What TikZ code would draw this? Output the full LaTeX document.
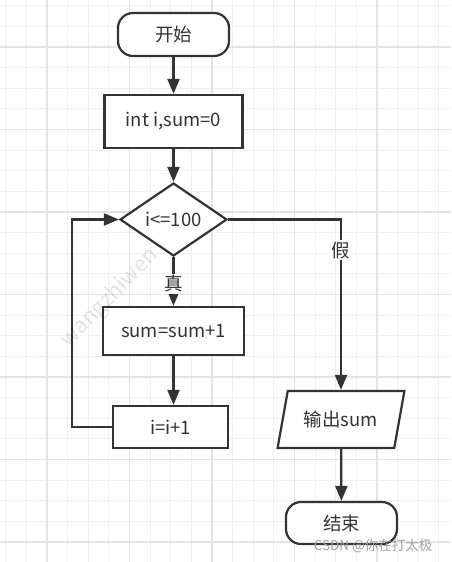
\documentclass[tikz,border=0pt]{standalone}
\usepackage{fontspec}
\setmainfont{Noto Sans CJK SC}
\usetikzlibrary{arrows.meta, shapes.geometric}
\definecolor{FInk}{HTML}{333333}
\definecolor{FGridMinor}{HTML}{F0F0F0}
\definecolor{FGridMajor}{HTML}{E3E3E3}
\definecolor{FMark}{HTML}{A0A0A0}

\begin{document}
\begin{tikzpicture}[
  x=1pt, y=-1pt,
  font=\fontsize{18.5}{22}\selectfont,
  box/.style={rectangle, draw=FInk, line width=2.2pt, fill=white,
              text=FInk, inner sep=2pt},
  term/.style={box, rounded corners=15pt, minimum width=111pt,
               minimum height=43pt},
  cond/.style={diamond, draw=FInk, line width=2.2pt, fill=white,
               text=FInk, inner sep=0pt, minimum width=107pt,
               minimum height=73pt},
  io/.style={trapezium, trapezium left angle=72, trapezium right angle=108,
             trapezium stretches=true, draw=FInk, line width=2.2pt,
             fill=white, text=FInk, minimum width=127pt, minimum height=57pt},
  flow/.style={-{Triangle[length=15pt,width=12pt]}, draw=FInk,
               line width=2.2pt},
  lbl/.style={fill=white, text=FInk, inner sep=1.5pt},
  gridminor/.style={draw=FGridMinor, line width=1pt},
  gridmajor/.style={draw=FGridMajor, line width=1.2pt},
]
\useasboundingbox (0,0) rectangle (451,562);
\fill[white] (0,0) rectangle (451,562);

% ── background grid ──────────────────────────────────────────────────────
\foreach \k in {-2,...,19}
  \draw[gridminor] ({47+20.625*\k},0) -- ++(0,562);
\foreach \k in {-2,...,24}
  \draw[gridminor] (0,{47+20.625*\k}) -- ++(451,0);
\foreach \k in {0,...,4}
  \draw[gridmajor] ({47+82.5*\k},0) -- ++(0,562);
\foreach \k in {0,...,6}
  \draw[gridmajor] (0,{47+82.5*\k}) -- ++(451,0);

% ── main column ──────────────────────────────────────────────────────────
\node[term] (start) at (173.5,34.5) {开始};
\node[box, minimum width=138pt, minimum height=53pt]
  (init) at (173.5,121.5) {int i,sum=0};
\node[cond] (test) at (173.5,219.5) {i<=100};
\node[box, minimum width=141pt, minimum height=48pt]
  (sum) at (173.5,331) {sum=sum+1};
\node[box, minimum width=115pt, minimum height=42pt]
  (inc) at (170.5,427) {i=i+1};

\draw[flow] (start) -- (init);
\draw[flow] (init) -- (test);
\draw[flow] (test) -- (sum)
  node[lbl, pos=0.55] {真};
\draw[flow] (sum) -- (sum |- inc.north);

% loop back to the test
\draw[flow] (inc.west) -- ++(-40,0) |- (test.west);

% ── false branch ─────────────────────────────────────────────────────────
\node[io] (out) at (341,419.5) {输出sum};
\node[term, minimum height=42pt] (stop) at (341.5,523) {结束};

\draw[flow] (test.east) -| (out.north)
  node[lbl, pos=0.59] {假};
\draw[flow] (out) -- (stop);

% watermarks on top
\node[text=black, text opacity=0.11, rotate=46,
      font=\fontsize{22}{24}\selectfont]
  (wm) at (110,298) {wangzhiwen};
\node[text=FMark, anchor=east, font=\fontsize{13.5}{16}\selectfont]
  (csdn) at (436,546) {CSDN @你在打太极};

\end{tikzpicture}
\end{document}
